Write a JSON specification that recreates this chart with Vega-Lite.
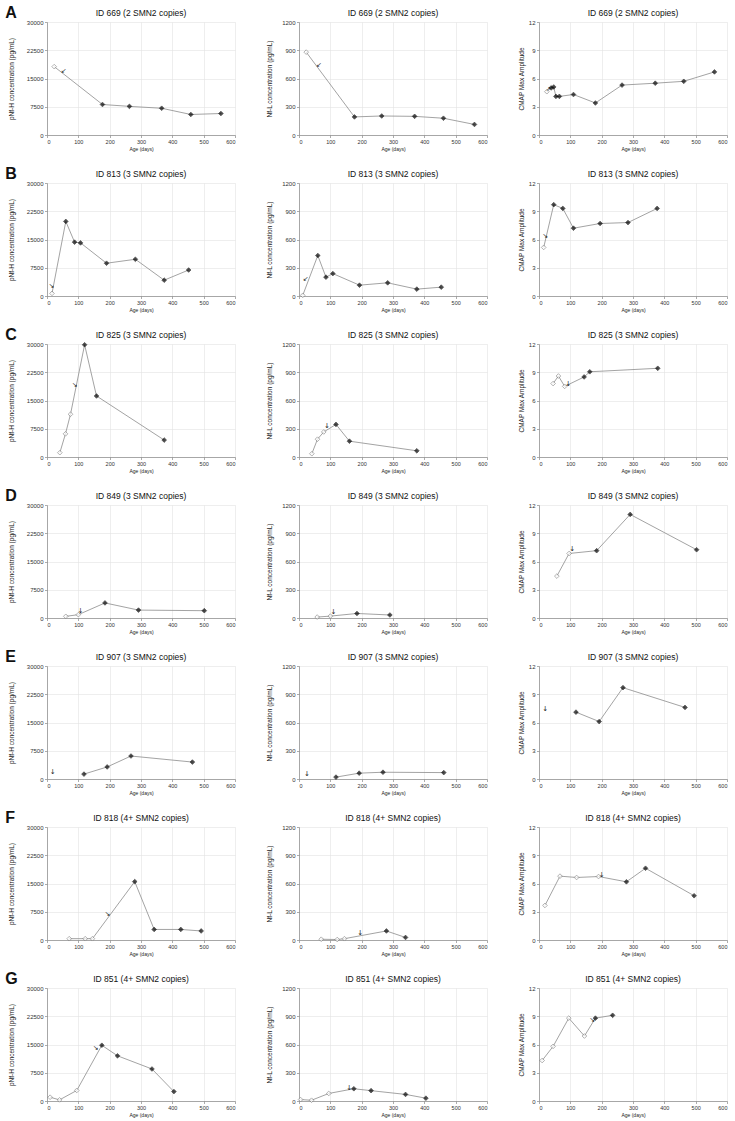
{
"$schema":"https://vega.github.io/schema/vega-lite/v6.json",
"padding":{"left":5,"top":4,"right":2,"bottom":2},
"config":{"font":"Liberation Sans","numberFormat":"d","view":{"stroke":null,"continuousWidth":188,"continuousHeight":113},
"title":{"fontSize":8.5,"fontWeight":"normal","offset":2,"color":"#111"},
"axis":{"labelFontSize":6,"titleFontSize":6.5,"titleFontWeight":"normal","labelColor":"#333","titleColor":"#222","gridColor":"#e3e3e3","gridWidth":0.6,"domainColor":"#888","domainWidth":0.7,"tickColor":"#888","tickSize":2.5,"tickWidth":0.7,"labelPadding":1.5,"titlePadding":3},
"axisX":{"tickCount":6,"labelFontSize":5.5,"titleFontSize":5,"titlePadding":2}},
"datasets":{
"pts":[
{"k":"A1","age":23,"v":18150,"o":1},{"k":"A1","age":177,"v":8100},{"k":"A1","age":263,"v":7600},{"k":"A1","age":366,"v":7100},{"k":"A1","age":459,"v":5450},{"k":"A1","age":555,"v":5700},
{"k":"A2","age":23,"v":880,"o":1},{"k":"A2","age":177,"v":192},{"k":"A2","age":264,"v":202},{"k":"A2","age":369,"v":198},{"k":"A2","age":461,"v":178},{"k":"A2","age":560,"v":112},
{"k":"A3","age":25,"v":4.6,"o":1},{"k":"A3","age":39,"v":5.0},{"k":"A3","age":47,"v":5.1},{"k":"A3","age":54,"v":4.1},{"k":"A3","age":65,"v":4.1},{"k":"A3","age":110,"v":4.3},{"k":"A3","age":180,"v":3.4},{"k":"A3","age":265,"v":5.3},{"k":"A3","age":371,"v":5.5},{"k":"A3","age":462,"v":5.7},{"k":"A3","age":560,"v":6.7},
{"k":"B1","age":16,"v":700,"o":1},{"k":"B1","age":60,"v":19800},{"k":"B1","age":88,"v":14300},{"k":"B1","age":107,"v":14100},{"k":"B1","age":190,"v":8700},{"k":"B1","age":282,"v":9750},{"k":"B1","age":374,"v":4200},{"k":"B1","age":452,"v":6900},
{"k":"B2","age":12,"v":7,"o":1},{"k":"B2","age":60,"v":430},{"k":"B2","age":86,"v":200},{"k":"B2","age":108,"v":238},{"k":"B2","age":193,"v":115},{"k":"B2","age":283,"v":140},{"k":"B2","age":376,"v":73},{"k":"B2","age":454,"v":94},
{"k":"B3","age":15,"v":5.16,"o":1},{"k":"B3","age":47,"v":9.7},{"k":"B3","age":76,"v":9.3},{"k":"B3","age":110,"v":7.2},{"k":"B3","age":195,"v":7.7},{"k":"B3","age":284,"v":7.8},{"k":"B3","age":377,"v":9.3},
{"k":"C1","age":41,"v":1150,"o":1},{"k":"C1","age":59,"v":6150,"o":1},{"k":"C1","age":75,"v":11350,"o":1},{"k":"C1","age":120,"v":29800},{"k":"C1","age":158,"v":16200},{"k":"C1","age":374,"v":4500},
{"k":"C2","age":41,"v":35,"o":1},{"k":"C2","age":59,"v":189,"o":1},{"k":"C2","age":79,"v":266,"o":1},{"k":"C2","age":118,"v":346},{"k":"C2","age":161,"v":168},{"k":"C2","age":376,"v":66},
{"k":"C3","age":45,"v":7.8,"o":1},{"k":"C3","age":62,"v":8.6,"o":1},{"k":"C3","age":82,"v":7.5,"o":1},{"k":"C3","age":144,"v":8.5},{"k":"C3","age":162,"v":9.05},{"k":"C3","age":379,"v":9.42},
{"k":"D1","age":60,"v":440,"o":1},{"k":"D1","age":100,"v":880,"o":1},{"k":"D1","age":185,"v":4000},{"k":"D1","age":292,"v":2100},{"k":"D1","age":502,"v":1940},
{"k":"D2","age":58,"v":10,"o":1},{"k":"D2","age":100,"v":20,"o":1},{"k":"D2","age":185,"v":48},{"k":"D2","age":290,"v":32},
{"k":"D3","age":57,"v":4.45,"o":1},{"k":"D3","age":96,"v":6.85,"o":1},{"k":"D3","age":184,"v":7.15},{"k":"D3","age":291,"v":11.0},{"k":"D3","age":503,"v":7.25},
{"k":"E1","age":118,"v":1300},{"k":"E1","age":192,"v":3200},{"k":"E1","age":268,"v":6100},{"k":"E1","age":464,"v":4500},
{"k":"E2","age":118,"v":20},{"k":"E2","age":192,"v":62},{"k":"E2","age":268,"v":72},{"k":"E2","age":462,"v":68},
{"k":"E3","age":118,"v":7.1},{"k":"E3","age":192,"v":6.1},{"k":"E3","age":268,"v":9.7},{"k":"E3","age":466,"v":7.6},
{"k":"F1","age":71,"v":350,"o":1},{"k":"F1","age":122,"v":350,"o":1},{"k":"F1","age":145,"v":350,"o":1},{"k":"F1","age":280,"v":15500},{"k":"F1","age":342,"v":2800},{"k":"F1","age":427,"v":2800},{"k":"F1","age":492,"v":2400},
{"k":"F2","age":71,"v":8,"o":1},{"k":"F2","age":122,"v":5,"o":1},{"k":"F2","age":145,"v":14,"o":1},{"k":"F2","age":279,"v":96},{"k":"F2","age":340,"v":27},
{"k":"F3","age":19,"v":3.67,"o":1},{"k":"F3","age":67,"v":6.78,"o":1},{"k":"F3","age":120,"v":6.64,"o":1},{"k":"F3","age":190,"v":6.74,"o":1},{"k":"F3","age":279,"v":6.18},{"k":"F3","age":340,"v":7.62},{"k":"F3","age":495,"v":4.7},
{"k":"G1","age":10,"v":1000,"o":1},{"k":"G1","age":40,"v":300,"o":1},{"k":"G1","age":95,"v":2800,"o":1},{"k":"G1","age":175,"v":14800},{"k":"G1","age":225,"v":12000},{"k":"G1","age":335,"v":8500},{"k":"G1","age":405,"v":2500},
{"k":"G2","age":5,"v":15,"o":1},{"k":"G2","age":40,"v":8,"o":1},{"k":"G2","age":95,"v":80,"o":1},{"k":"G2","age":175,"v":130},{"k":"G2","age":230,"v":110},{"k":"G2","age":340,"v":70},{"k":"G2","age":405,"v":30},
{"k":"G3","age":10,"v":4.3,"o":1},{"k":"G3","age":45,"v":5.8,"o":1},{"k":"G3","age":95,"v":8.8,"o":1},{"k":"G3","age":145,"v":6.9,"o":1},{"k":"G3","age":180,"v":8.8},{"k":"G3","age":235,"v":9.1}
],
"arr":[
{"k":"A1","age":53,"v":17000,"g":"↙"},{"k":"A2","age":64,"v":745,"g":"↙"},{"k":"A3","age":30,"v":4.9,"g":"↗"},
{"k":"B1","age":14,"v":2700,"g":"↘"},{"k":"B2","age":21,"v":185,"g":"↙"},{"k":"B3","age":20,"v":6.4,"g":"↘"},
{"k":"C1","age":88,"v":19000,"g":"↘"},{"k":"C2","age":89,"v":325,"g":"↓"},{"k":"C3","age":93,"v":7.8,"g":"↓"},
{"k":"D1","age":107,"v":1940,"g":"↓"},{"k":"D2","age":110,"v":60,"g":"↓"},{"k":"D3","age":106,"v":7.3,"g":"↓"},
{"k":"E1","age":18,"v":1760,"g":"↓"},{"k":"E2","age":25,"v":50,"g":"↓"},{"k":"E3","age":20,"v":7.4,"g":"↓"},
{"k":"F1","age":193,"v":6800,"g":"↘"},{"k":"F2","age":195,"v":75,"g":"↓"},{"k":"F3","age":200,"v":6.95,"g":"↓"},
{"k":"G1","age":155,"v":14000,"g":"↘"},{"k":"G2","age":160,"v":140,"g":"↓"},{"k":"G3","age":170,"v":8.6,"g":"↘"}
]},
"vconcat":[
{"title":{"text":"A","anchor":"start","offset":-12,"fontSize":16,"fontWeight":"bold","dx":-3},"hconcat":[
{"title":"ID 669 (2 SMN2 copies)","encoding":{"x":{"field":"age","type":"quantitative","scale":{"domain":[0,600]},"title":"Age (days)"},"y":{"field":"v","type":"quantitative","scale":{"domain":[0,30000]},"axis":{"values":[0,7500,15000,22500,30000],"titlePadding":12},"title":"pNf-H concentration (pg/mL)"}},"layer":[{"data":{"values":[{}]},"mark":{"type":"rule","color":"#a0a0a0","strokeWidth":0.7,"strokeDash":[2,1.5]},"encoding":{"x":{"datum":0},"x2":{"datum":600},"y":{"datum":1000}}},{"data":{"name":"pts"},"transform":[{"filter":"datum.k=='A1'"}],"layer":[{"mark":{"type":"line","color":"#8c8c8c","strokeWidth":0.8}},{"mark":{"type":"point","shape":"diamond","filled":true,"size":22,"strokeWidth":0.7},"encoding":{"fill":{"condition":{"test":"datum.o","value":"#ffffff"},"value":"#000000"},"stroke":{"condition":{"test":"datum.o","value":"#666666"},"value":"#000000"}}}]},{"data":{"name":"arr"},"transform":[{"filter":"datum.k=='A1'"}],"mark":{"type":"text","fontSize":7,"font":"DejaVu Sans","color":"#222222"},"encoding":{"text":{"field":"g"}}}]},
{"title":"ID 669 (2 SMN2 copies)","encoding":{"x":{"field":"age","type":"quantitative","scale":{"domain":[0,600]},"title":"Age (days)"},"y":{"field":"v","type":"quantitative","scale":{"domain":[0,1200]},"axis":{"values":[0,300,600,900,1200],"titlePadding":9},"title":"Nf-L concentration (pg/mL)"}},"layer":[{"data":{"values":[{}]},"mark":{"type":"rule","color":"#a0a0a0","strokeWidth":0.7,"strokeDash":[2,1.5]},"encoding":{"x":{"datum":0},"x2":{"datum":600},"y":{"datum":20}}},{"data":{"name":"pts"},"transform":[{"filter":"datum.k=='A2'"}],"layer":[{"mark":{"type":"line","color":"#8c8c8c","strokeWidth":0.8}},{"mark":{"type":"point","shape":"diamond","filled":true,"size":22,"strokeWidth":0.7},"encoding":{"fill":{"condition":{"test":"datum.o","value":"#ffffff"},"value":"#000000"},"stroke":{"condition":{"test":"datum.o","value":"#666666"},"value":"#000000"}}}]},{"data":{"name":"arr"},"transform":[{"filter":"datum.k=='A2'"}],"mark":{"type":"text","fontSize":7,"font":"DejaVu Sans","color":"#222222"},"encoding":{"text":{"field":"g"}}}]},
{"title":"ID 669 (2 SMN2 copies)","encoding":{"x":{"field":"age","type":"quantitative","scale":{"domain":[0,600]},"title":"Age (days)"},"y":{"field":"v","type":"quantitative","scale":{"domain":[0,12]},"axis":{"values":[0,3,6,9,12],"titlePadding":4},"title":"CMAP Max Amplitude"}},"layer":[{"data":{"values":[{}]},"mark":{"type":"rule","color":"#a0a0a0","strokeWidth":0.7,"strokeDash":[2,1.5]},"encoding":{"x":{"datum":0},"x2":{"datum":600},"y":{"datum":5}}},{"data":{"name":"pts"},"transform":[{"filter":"datum.k=='A3'"}],"layer":[{"mark":{"type":"line","color":"#8c8c8c","strokeWidth":0.8}},{"mark":{"type":"point","shape":"diamond","filled":true,"size":22,"strokeWidth":0.7},"encoding":{"fill":{"condition":{"test":"datum.o","value":"#ffffff"},"value":"#000000"},"stroke":{"condition":{"test":"datum.o","value":"#666666"},"value":"#000000"}}}]},{"data":{"name":"arr"},"transform":[{"filter":"datum.k=='A3'"}],"mark":{"type":"text","fontSize":7,"font":"DejaVu Sans","color":"#222222"},"encoding":{"text":{"field":"g"}}}]}
],"spacing":30},
{"title":{"text":"B","anchor":"start","offset":-12,"fontSize":16,"fontWeight":"bold","dx":-3},"hconcat":[
{"title":"ID 813 (3 SMN2 copies)","encoding":{"x":{"field":"age","type":"quantitative","scale":{"domain":[0,600]},"title":"Age (days)"},"y":{"field":"v","type":"quantitative","scale":{"domain":[0,30000]},"axis":{"values":[0,7500,15000,22500,30000],"titlePadding":12},"title":"pNf-H concentration (pg/mL)"}},"layer":[{"data":{"values":[{}]},"mark":{"type":"rule","color":"#a0a0a0","strokeWidth":0.7,"strokeDash":[2,1.5]},"encoding":{"x":{"datum":0},"x2":{"datum":600},"y":{"datum":1000}}},{"data":{"name":"pts"},"transform":[{"filter":"datum.k=='B1'"}],"layer":[{"mark":{"type":"line","color":"#8c8c8c","strokeWidth":0.8}},{"mark":{"type":"point","shape":"diamond","filled":true,"size":22,"strokeWidth":0.7},"encoding":{"fill":{"condition":{"test":"datum.o","value":"#ffffff"},"value":"#000000"},"stroke":{"condition":{"test":"datum.o","value":"#666666"},"value":"#000000"}}}]},{"data":{"name":"arr"},"transform":[{"filter":"datum.k=='B1'"}],"mark":{"type":"text","fontSize":7,"font":"DejaVu Sans","color":"#222222"},"encoding":{"text":{"field":"g"}}}]},
{"title":"ID 813 (3 SMN2 copies)","encoding":{"x":{"field":"age","type":"quantitative","scale":{"domain":[0,600]},"title":"Age (days)"},"y":{"field":"v","type":"quantitative","scale":{"domain":[0,1200]},"axis":{"values":[0,300,600,900,1200],"titlePadding":9},"title":"Nf-L concentration (pg/mL)"}},"layer":[{"data":{"values":[{}]},"mark":{"type":"rule","color":"#a0a0a0","strokeWidth":0.7,"strokeDash":[2,1.5]},"encoding":{"x":{"datum":0},"x2":{"datum":600},"y":{"datum":20}}},{"data":{"name":"pts"},"transform":[{"filter":"datum.k=='B2'"}],"layer":[{"mark":{"type":"line","color":"#8c8c8c","strokeWidth":0.8}},{"mark":{"type":"point","shape":"diamond","filled":true,"size":22,"strokeWidth":0.7},"encoding":{"fill":{"condition":{"test":"datum.o","value":"#ffffff"},"value":"#000000"},"stroke":{"condition":{"test":"datum.o","value":"#666666"},"value":"#000000"}}}]},{"data":{"name":"arr"},"transform":[{"filter":"datum.k=='B2'"}],"mark":{"type":"text","fontSize":7,"font":"DejaVu Sans","color":"#222222"},"encoding":{"text":{"field":"g"}}}]},
{"title":"ID 813 (3 SMN2 copies)","encoding":{"x":{"field":"age","type":"quantitative","scale":{"domain":[0,600]},"title":"Age (days)"},"y":{"field":"v","type":"quantitative","scale":{"domain":[0,12]},"axis":{"values":[0,3,6,9,12],"titlePadding":4},"title":"CMAP Max Amplitude"}},"layer":[{"data":{"values":[{}]},"mark":{"type":"rule","color":"#a0a0a0","strokeWidth":0.7,"strokeDash":[2,1.5]},"encoding":{"x":{"datum":0},"x2":{"datum":600},"y":{"datum":5}}},{"data":{"name":"pts"},"transform":[{"filter":"datum.k=='B3'"}],"layer":[{"mark":{"type":"line","color":"#8c8c8c","strokeWidth":0.8}},{"mark":{"type":"point","shape":"diamond","filled":true,"size":22,"strokeWidth":0.7},"encoding":{"fill":{"condition":{"test":"datum.o","value":"#ffffff"},"value":"#000000"},"stroke":{"condition":{"test":"datum.o","value":"#666666"},"value":"#000000"}}}]},{"data":{"name":"arr"},"transform":[{"filter":"datum.k=='B3'"}],"mark":{"type":"text","fontSize":7,"font":"DejaVu Sans","color":"#222222"},"encoding":{"text":{"field":"g"}}}]}
],"spacing":30},
{"title":{"text":"C","anchor":"start","offset":-12,"fontSize":16,"fontWeight":"bold","dx":-3},"hconcat":[
{"title":"ID 825 (3 SMN2 copies)","encoding":{"x":{"field":"age","type":"quantitative","scale":{"domain":[0,600]},"title":"Age (days)"},"y":{"field":"v","type":"quantitative","scale":{"domain":[0,30000]},"axis":{"values":[0,7500,15000,22500,30000],"titlePadding":12},"title":"pNf-H concentration (pg/mL)"}},"layer":[{"data":{"values":[{}]},"mark":{"type":"rule","color":"#a0a0a0","strokeWidth":0.7,"strokeDash":[2,1.5]},"encoding":{"x":{"datum":0},"x2":{"datum":600},"y":{"datum":1000}}},{"data":{"name":"pts"},"transform":[{"filter":"datum.k=='C1'"}],"layer":[{"mark":{"type":"line","color":"#8c8c8c","strokeWidth":0.8}},{"mark":{"type":"point","shape":"diamond","filled":true,"size":22,"strokeWidth":0.7},"encoding":{"fill":{"condition":{"test":"datum.o","value":"#ffffff"},"value":"#000000"},"stroke":{"condition":{"test":"datum.o","value":"#666666"},"value":"#000000"}}}]},{"data":{"name":"arr"},"transform":[{"filter":"datum.k=='C1'"}],"mark":{"type":"text","fontSize":7,"font":"DejaVu Sans","color":"#222222"},"encoding":{"text":{"field":"g"}}}]},
{"title":"ID 825 (3 SMN2 copies)","encoding":{"x":{"field":"age","type":"quantitative","scale":{"domain":[0,600]},"title":"Age (days)"},"y":{"field":"v","type":"quantitative","scale":{"domain":[0,1200]},"axis":{"values":[0,300,600,900,1200],"titlePadding":9},"title":"Nf-L concentration (pg/mL)"}},"layer":[{"data":{"values":[{}]},"mark":{"type":"rule","color":"#a0a0a0","strokeWidth":0.7,"strokeDash":[2,1.5]},"encoding":{"x":{"datum":0},"x2":{"datum":600},"y":{"datum":20}}},{"data":{"name":"pts"},"transform":[{"filter":"datum.k=='C2'"}],"layer":[{"mark":{"type":"line","color":"#8c8c8c","strokeWidth":0.8}},{"mark":{"type":"point","shape":"diamond","filled":true,"size":22,"strokeWidth":0.7},"encoding":{"fill":{"condition":{"test":"datum.o","value":"#ffffff"},"value":"#000000"},"stroke":{"condition":{"test":"datum.o","value":"#666666"},"value":"#000000"}}}]},{"data":{"name":"arr"},"transform":[{"filter":"datum.k=='C2'"}],"mark":{"type":"text","fontSize":7,"font":"DejaVu Sans","color":"#222222"},"encoding":{"text":{"field":"g"}}}]},
{"title":"ID 825 (3 SMN2 copies)","encoding":{"x":{"field":"age","type":"quantitative","scale":{"domain":[0,600]},"title":"Age (days)"},"y":{"field":"v","type":"quantitative","scale":{"domain":[0,12]},"axis":{"values":[0,3,6,9,12],"titlePadding":4},"title":"CMAP Max Amplitude"}},"layer":[{"data":{"values":[{}]},"mark":{"type":"rule","color":"#a0a0a0","strokeWidth":0.7,"strokeDash":[2,1.5]},"encoding":{"x":{"datum":0},"x2":{"datum":600},"y":{"datum":5}}},{"data":{"name":"pts"},"transform":[{"filter":"datum.k=='C3'"}],"layer":[{"mark":{"type":"line","color":"#8c8c8c","strokeWidth":0.8}},{"mark":{"type":"point","shape":"diamond","filled":true,"size":22,"strokeWidth":0.7},"encoding":{"fill":{"condition":{"test":"datum.o","value":"#ffffff"},"value":"#000000"},"stroke":{"condition":{"test":"datum.o","value":"#666666"},"value":"#000000"}}}]},{"data":{"name":"arr"},"transform":[{"filter":"datum.k=='C3'"}],"mark":{"type":"text","fontSize":7,"font":"DejaVu Sans","color":"#222222"},"encoding":{"text":{"field":"g"}}}]}
],"spacing":30},
{"title":{"text":"D","anchor":"start","offset":-12,"fontSize":16,"fontWeight":"bold","dx":-3},"hconcat":[
{"title":"ID 849 (3 SMN2 copies)","encoding":{"x":{"field":"age","type":"quantitative","scale":{"domain":[0,600]},"title":"Age (days)"},"y":{"field":"v","type":"quantitative","scale":{"domain":[0,30000]},"axis":{"values":[0,7500,15000,22500,30000],"titlePadding":12},"title":"pNf-H concentration (pg/mL)"}},"layer":[{"data":{"values":[{}]},"mark":{"type":"rule","color":"#a0a0a0","strokeWidth":0.7,"strokeDash":[2,1.5]},"encoding":{"x":{"datum":0},"x2":{"datum":600},"y":{"datum":1000}}},{"data":{"name":"pts"},"transform":[{"filter":"datum.k=='D1'"}],"layer":[{"mark":{"type":"line","color":"#8c8c8c","strokeWidth":0.8}},{"mark":{"type":"point","shape":"diamond","filled":true,"size":22,"strokeWidth":0.7},"encoding":{"fill":{"condition":{"test":"datum.o","value":"#ffffff"},"value":"#000000"},"stroke":{"condition":{"test":"datum.o","value":"#666666"},"value":"#000000"}}}]},{"data":{"name":"arr"},"transform":[{"filter":"datum.k=='D1'"}],"mark":{"type":"text","fontSize":7,"font":"DejaVu Sans","color":"#222222"},"encoding":{"text":{"field":"g"}}}]},
{"title":"ID 849 (3 SMN2 copies)","encoding":{"x":{"field":"age","type":"quantitative","scale":{"domain":[0,600]},"title":"Age (days)"},"y":{"field":"v","type":"quantitative","scale":{"domain":[0,1200]},"axis":{"values":[0,300,600,900,1200],"titlePadding":9},"title":"Nf-L concentration (pg/mL)"}},"layer":[{"data":{"values":[{}]},"mark":{"type":"rule","color":"#a0a0a0","strokeWidth":0.7,"strokeDash":[2,1.5]},"encoding":{"x":{"datum":0},"x2":{"datum":600},"y":{"datum":20}}},{"data":{"name":"pts"},"transform":[{"filter":"datum.k=='D2'"}],"layer":[{"mark":{"type":"line","color":"#8c8c8c","strokeWidth":0.8}},{"mark":{"type":"point","shape":"diamond","filled":true,"size":22,"strokeWidth":0.7},"encoding":{"fill":{"condition":{"test":"datum.o","value":"#ffffff"},"value":"#000000"},"stroke":{"condition":{"test":"datum.o","value":"#666666"},"value":"#000000"}}}]},{"data":{"name":"arr"},"transform":[{"filter":"datum.k=='D2'"}],"mark":{"type":"text","fontSize":7,"font":"DejaVu Sans","color":"#222222"},"encoding":{"text":{"field":"g"}}}]},
{"title":"ID 849 (3 SMN2 copies)","encoding":{"x":{"field":"age","type":"quantitative","scale":{"domain":[0,600]},"title":"Age (days)"},"y":{"field":"v","type":"quantitative","scale":{"domain":[0,12]},"axis":{"values":[0,3,6,9,12],"titlePadding":4},"title":"CMAP Max Amplitude"}},"layer":[{"data":{"values":[{}]},"mark":{"type":"rule","color":"#a0a0a0","strokeWidth":0.7,"strokeDash":[2,1.5]},"encoding":{"x":{"datum":0},"x2":{"datum":600},"y":{"datum":5}}},{"data":{"name":"pts"},"transform":[{"filter":"datum.k=='D3'"}],"layer":[{"mark":{"type":"line","color":"#8c8c8c","strokeWidth":0.8}},{"mark":{"type":"point","shape":"diamond","filled":true,"size":22,"strokeWidth":0.7},"encoding":{"fill":{"condition":{"test":"datum.o","value":"#ffffff"},"value":"#000000"},"stroke":{"condition":{"test":"datum.o","value":"#666666"},"value":"#000000"}}}]},{"data":{"name":"arr"},"transform":[{"filter":"datum.k=='D3'"}],"mark":{"type":"text","fontSize":7,"font":"DejaVu Sans","color":"#222222"},"encoding":{"text":{"field":"g"}}}]}
],"spacing":30},
{"title":{"text":"E","anchor":"start","offset":-12,"fontSize":16,"fontWeight":"bold","dx":-3},"hconcat":[
{"title":"ID 907 (3 SMN2 copies)","encoding":{"x":{"field":"age","type":"quantitative","scale":{"domain":[0,600]},"title":"Age (days)"},"y":{"field":"v","type":"quantitative","scale":{"domain":[0,30000]},"axis":{"values":[0,7500,15000,22500,30000],"titlePadding":12},"title":"pNf-H concentration (pg/mL)"}},"layer":[{"data":{"values":[{}]},"mark":{"type":"rule","color":"#a0a0a0","strokeWidth":0.7,"strokeDash":[2,1.5]},"encoding":{"x":{"datum":0},"x2":{"datum":600},"y":{"datum":1000}}},{"data":{"name":"pts"},"transform":[{"filter":"datum.k=='E1'"}],"layer":[{"mark":{"type":"line","color":"#8c8c8c","strokeWidth":0.8}},{"mark":{"type":"point","shape":"diamond","filled":true,"size":22,"strokeWidth":0.7},"encoding":{"fill":{"condition":{"test":"datum.o","value":"#ffffff"},"value":"#000000"},"stroke":{"condition":{"test":"datum.o","value":"#666666"},"value":"#000000"}}}]},{"data":{"name":"arr"},"transform":[{"filter":"datum.k=='E1'"}],"mark":{"type":"text","fontSize":7,"font":"DejaVu Sans","color":"#222222"},"encoding":{"text":{"field":"g"}}}]},
{"title":"ID 907 (3 SMN2 copies)","encoding":{"x":{"field":"age","type":"quantitative","scale":{"domain":[0,600]},"title":"Age (days)"},"y":{"field":"v","type":"quantitative","scale":{"domain":[0,1200]},"axis":{"values":[0,300,600,900,1200],"titlePadding":9},"title":"Nf-L concentration (pg/mL)"}},"layer":[{"data":{"values":[{}]},"mark":{"type":"rule","color":"#a0a0a0","strokeWidth":0.7,"strokeDash":[2,1.5]},"encoding":{"x":{"datum":0},"x2":{"datum":600},"y":{"datum":20}}},{"data":{"name":"pts"},"transform":[{"filter":"datum.k=='E2'"}],"layer":[{"mark":{"type":"line","color":"#8c8c8c","strokeWidth":0.8}},{"mark":{"type":"point","shape":"diamond","filled":true,"size":22,"strokeWidth":0.7},"encoding":{"fill":{"condition":{"test":"datum.o","value":"#ffffff"},"value":"#000000"},"stroke":{"condition":{"test":"datum.o","value":"#666666"},"value":"#000000"}}}]},{"data":{"name":"arr"},"transform":[{"filter":"datum.k=='E2'"}],"mark":{"type":"text","fontSize":7,"font":"DejaVu Sans","color":"#222222"},"encoding":{"text":{"field":"g"}}}]},
{"title":"ID 907 (3 SMN2 copies)","encoding":{"x":{"field":"age","type":"quantitative","scale":{"domain":[0,600]},"title":"Age (days)"},"y":{"field":"v","type":"quantitative","scale":{"domain":[0,12]},"axis":{"values":[0,3,6,9,12],"titlePadding":4},"title":"CMAP Max Amplitude"}},"layer":[{"data":{"values":[{}]},"mark":{"type":"rule","color":"#a0a0a0","strokeWidth":0.7,"strokeDash":[2,1.5]},"encoding":{"x":{"datum":0},"x2":{"datum":600},"y":{"datum":5}}},{"data":{"name":"pts"},"transform":[{"filter":"datum.k=='E3'"}],"layer":[{"mark":{"type":"line","color":"#8c8c8c","strokeWidth":0.8}},{"mark":{"type":"point","shape":"diamond","filled":true,"size":22,"strokeWidth":0.7},"encoding":{"fill":{"condition":{"test":"datum.o","value":"#ffffff"},"value":"#000000"},"stroke":{"condition":{"test":"datum.o","value":"#666666"},"value":"#000000"}}}]},{"data":{"name":"arr"},"transform":[{"filter":"datum.k=='E3'"}],"mark":{"type":"text","fontSize":7,"font":"DejaVu Sans","color":"#222222"},"encoding":{"text":{"field":"g"}}}]}
],"spacing":30},
{"title":{"text":"F","anchor":"start","offset":-12,"fontSize":16,"fontWeight":"bold","dx":-3},"hconcat":[
{"title":"ID 818 (4+ SMN2 copies)","encoding":{"x":{"field":"age","type":"quantitative","scale":{"domain":[0,600]},"title":"Age (days)"},"y":{"field":"v","type":"quantitative","scale":{"domain":[0,30000]},"axis":{"values":[0,7500,15000,22500,30000],"titlePadding":12},"title":"pNf-H concentration (pg/mL)"}},"layer":[{"data":{"values":[{}]},"mark":{"type":"rule","color":"#a0a0a0","strokeWidth":0.7,"strokeDash":[2,1.5]},"encoding":{"x":{"datum":0},"x2":{"datum":600},"y":{"datum":1000}}},{"data":{"name":"pts"},"transform":[{"filter":"datum.k=='F1'"}],"layer":[{"mark":{"type":"line","color":"#8c8c8c","strokeWidth":0.8}},{"mark":{"type":"point","shape":"diamond","filled":true,"size":22,"strokeWidth":0.7},"encoding":{"fill":{"condition":{"test":"datum.o","value":"#ffffff"},"value":"#000000"},"stroke":{"condition":{"test":"datum.o","value":"#666666"},"value":"#000000"}}}]},{"data":{"name":"arr"},"transform":[{"filter":"datum.k=='F1'"}],"mark":{"type":"text","fontSize":7,"font":"DejaVu Sans","color":"#222222"},"encoding":{"text":{"field":"g"}}}]},
{"title":"ID 818 (4+ SMN2 copies)","encoding":{"x":{"field":"age","type":"quantitative","scale":{"domain":[0,600]},"title":"Age (days)"},"y":{"field":"v","type":"quantitative","scale":{"domain":[0,1200]},"axis":{"values":[0,300,600,900,1200],"titlePadding":9},"title":"Nf-L concentration (pg/mL)"}},"layer":[{"data":{"values":[{}]},"mark":{"type":"rule","color":"#a0a0a0","strokeWidth":0.7,"strokeDash":[2,1.5]},"encoding":{"x":{"datum":0},"x2":{"datum":600},"y":{"datum":20}}},{"data":{"name":"pts"},"transform":[{"filter":"datum.k=='F2'"}],"layer":[{"mark":{"type":"line","color":"#8c8c8c","strokeWidth":0.8}},{"mark":{"type":"point","shape":"diamond","filled":true,"size":22,"strokeWidth":0.7},"encoding":{"fill":{"condition":{"test":"datum.o","value":"#ffffff"},"value":"#000000"},"stroke":{"condition":{"test":"datum.o","value":"#666666"},"value":"#000000"}}}]},{"data":{"name":"arr"},"transform":[{"filter":"datum.k=='F2'"}],"mark":{"type":"text","fontSize":7,"font":"DejaVu Sans","color":"#222222"},"encoding":{"text":{"field":"g"}}}]},
{"title":"ID 818 (4+ SMN2 copies)","encoding":{"x":{"field":"age","type":"quantitative","scale":{"domain":[0,600]},"title":"Age (days)"},"y":{"field":"v","type":"quantitative","scale":{"domain":[0,12]},"axis":{"values":[0,3,6,9,12],"titlePadding":4},"title":"CMAP Max Amplitude"}},"layer":[{"data":{"values":[{}]},"mark":{"type":"rule","color":"#a0a0a0","strokeWidth":0.7,"strokeDash":[2,1.5]},"encoding":{"x":{"datum":0},"x2":{"datum":600},"y":{"datum":5}}},{"data":{"name":"pts"},"transform":[{"filter":"datum.k=='F3'"}],"layer":[{"mark":{"type":"line","color":"#8c8c8c","strokeWidth":0.8}},{"mark":{"type":"point","shape":"diamond","filled":true,"size":22,"strokeWidth":0.7},"encoding":{"fill":{"condition":{"test":"datum.o","value":"#ffffff"},"value":"#000000"},"stroke":{"condition":{"test":"datum.o","value":"#666666"},"value":"#000000"}}}]},{"data":{"name":"arr"},"transform":[{"filter":"datum.k=='F3'"}],"mark":{"type":"text","fontSize":7,"font":"DejaVu Sans","color":"#222222"},"encoding":{"text":{"field":"g"}}}]}
],"spacing":30},
{"title":{"text":"G","anchor":"start","offset":-12,"fontSize":16,"fontWeight":"bold","dx":-3},"hconcat":[
{"title":"ID 851 (4+ SMN2 copies)","encoding":{"x":{"field":"age","type":"quantitative","scale":{"domain":[0,600]},"title":"Age (days)"},"y":{"field":"v","type":"quantitative","scale":{"domain":[0,30000]},"axis":{"values":[0,7500,15000,22500,30000],"titlePadding":12},"title":"pNf-H concentration (pg/mL)"}},"layer":[{"data":{"values":[{}]},"mark":{"type":"rule","color":"#a0a0a0","strokeWidth":0.7,"strokeDash":[2,1.5]},"encoding":{"x":{"datum":0},"x2":{"datum":600},"y":{"datum":1000}}},{"data":{"name":"pts"},"transform":[{"filter":"datum.k=='G1'"}],"layer":[{"mark":{"type":"line","color":"#8c8c8c","strokeWidth":0.8}},{"mark":{"type":"point","shape":"diamond","filled":true,"size":22,"strokeWidth":0.7},"encoding":{"fill":{"condition":{"test":"datum.o","value":"#ffffff"},"value":"#000000"},"stroke":{"condition":{"test":"datum.o","value":"#666666"},"value":"#000000"}}}]},{"data":{"name":"arr"},"transform":[{"filter":"datum.k=='G1'"}],"mark":{"type":"text","fontSize":7,"font":"DejaVu Sans","color":"#222222"},"encoding":{"text":{"field":"g"}}}]},
{"title":"ID 851 (4+ SMN2 copies)","encoding":{"x":{"field":"age","type":"quantitative","scale":{"domain":[0,600]},"title":"Age (days)"},"y":{"field":"v","type":"quantitative","scale":{"domain":[0,1200]},"axis":{"values":[0,300,600,900,1200],"titlePadding":9},"title":"Nf-L concentration (pg/mL)"}},"layer":[{"data":{"values":[{}]},"mark":{"type":"rule","color":"#a0a0a0","strokeWidth":0.7,"strokeDash":[2,1.5]},"encoding":{"x":{"datum":0},"x2":{"datum":600},"y":{"datum":20}}},{"data":{"name":"pts"},"transform":[{"filter":"datum.k=='G2'"}],"layer":[{"mark":{"type":"line","color":"#8c8c8c","strokeWidth":0.8}},{"mark":{"type":"point","shape":"diamond","filled":true,"size":22,"strokeWidth":0.7},"encoding":{"fill":{"condition":{"test":"datum.o","value":"#ffffff"},"value":"#000000"},"stroke":{"condition":{"test":"datum.o","value":"#666666"},"value":"#000000"}}}]},{"data":{"name":"arr"},"transform":[{"filter":"datum.k=='G2'"}],"mark":{"type":"text","fontSize":7,"font":"DejaVu Sans","color":"#222222"},"encoding":{"text":{"field":"g"}}}]},
{"title":"ID 851 (4+ SMN2 copies)","encoding":{"x":{"field":"age","type":"quantitative","scale":{"domain":[0,600]},"title":"Age (days)"},"y":{"field":"v","type":"quantitative","scale":{"domain":[0,12]},"axis":{"values":[0,3,6,9,12],"titlePadding":4},"title":"CMAP Max Amplitude"}},"layer":[{"data":{"values":[{}]},"mark":{"type":"rule","color":"#a0a0a0","strokeWidth":0.7,"strokeDash":[2,1.5]},"encoding":{"x":{"datum":0},"x2":{"datum":600},"y":{"datum":5}}},{"data":{"name":"pts"},"transform":[{"filter":"datum.k=='G3'"}],"layer":[{"mark":{"type":"line","color":"#8c8c8c","strokeWidth":0.8}},{"mark":{"type":"point","shape":"diamond","filled":true,"size":22,"strokeWidth":0.7},"encoding":{"fill":{"condition":{"test":"datum.o","value":"#ffffff"},"value":"#000000"},"stroke":{"condition":{"test":"datum.o","value":"#666666"},"value":"#000000"}}}]},{"data":{"name":"arr"},"transform":[{"filter":"datum.k=='G3'"}],"mark":{"type":"text","fontSize":7,"font":"DejaVu Sans","color":"#222222"},"encoding":{"text":{"field":"g"}}}]}
],"spacing":30}
],"spacing":13
}
